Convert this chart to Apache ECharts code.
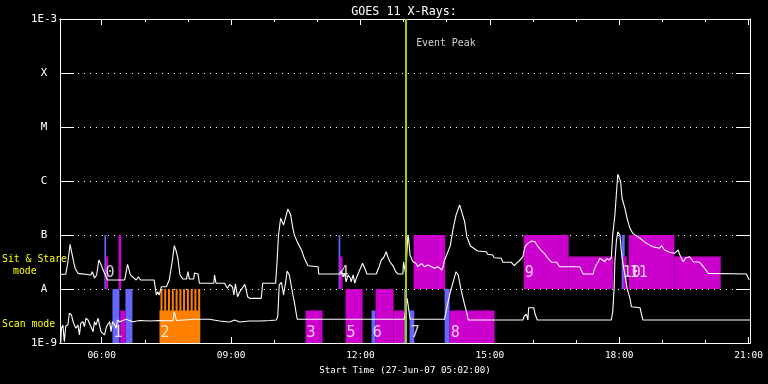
<!DOCTYPE html>
<html><head><meta charset="utf-8">
<script src="https://cdn.jsdelivr.net/npm/echarts@6/dist/echarts.min.js"></script>
<style>html,body{margin:0;padding:0;background:#000}#c{width:768px;height:384px}</style>
</head><body><div id="c"></div>
<script>
// ---------- DATA ----------
const chartTitle = 'GOES 11 X-Rays:';
const xAxisTitle = 'Start Time (27-Jun-07 05:02:00)';
const timeRange = [302, 1262];               // minutes of day (05:02 .. 21:02)
const fluxRange = [1e-9, 1e-3];
const yTickLabels = ['1E-9', 'A', 'B', 'C', 'M', 'X', '1E-3'];
const xMajorTicks = [360, 540, 720, 900, 1080, 1260];
const xHourTicks = [360, 420, 480, 540, 600, 660, 720, 780, 840, 900, 960, 1020, 1080, 1140, 1200, 1260];
const modeLabels = ['Sit & Stare', 'mode', 'Scan mode'];
const eventPeakTime = 783.5;
const eventPeakText = 'Event Peak';
const eventPeakLabelFlux = 3.6e-4;

// GOES long channel (1-8 A): [minute, flux]
const longChannel = [
[302,1.87e-8],[310,1.87e-8],[313,3.16e-8],[316,6.7e-8],[320,3.7e-8],[323,2.42e-8],[327,1.95e-8],[329,1.82e-8],
[345,1.82e-8],[347,2.09e-8],[350,1.6e-8],[353,1.82e-8],[356,3.44e-8],[359,2.87e-8],[361,2.42e-8],[365,1.82e-8],
[368,1.47e-8],[392,1.47e-8],[396,2.87e-8],[400,1.82e-8],[408,1.47e-8],[411,1.69e-8],[414,1.47e-8],[433,1.47e-8],
[436,7.74e-9],[438,8.91e-9],[440,7.74e-9],[443,1.1e-8],[450,1.1e-8],[454,1.47e-8],[458,3.16e-8],[461,6.34e-8],
[464,4.84e-8],[466,3.7e-8],[469,1.82e-8],[473,1.53e-8],[478,1.53e-8],[480,2.09e-8],[482,1.53e-8],[488,1.53e-8],
[489,1.98e-8],[494,1.9e-8],[496,1.28e-8],[516,1.28e-8],[517,1.82e-8],[519,1.28e-8],[531,1.28e-8],[533,1.19e-8],
[535,1.03e-8],[538,1.21e-8],[542,1.09e-8],[544,7.74e-9],[546,1.24e-8],[548,1.19e-8],[549,7.2e-9],[552,8.8e-9],
[559,1.22e-8],[561,9.6e-9],[563,7.2e-9],[566,6.7e-9],[582,6.7e-9],[584,1.28e-8],[602,1.28e-8],[604,3.2e-8],
[606,1.0e-7],[609,2.04e-7],[611,2.04e-7],[613,1.53e-7],[616,2.15e-7],[619,3.03e-7],[623,2.34e-7],[626,1.33e-7],
[628,1.0e-7],[633,7.0e-8],[638,5.27e-8],[642,3.7e-8],[647,2.7e-8],[661,2.59e-8],[662,1.9e-8],[691,1.9e-8],
[693,2.15e-8],[696,1.69e-8],[698,1.95e-8],[700,1.36e-8],[703,1.82e-8],[706,1.58e-8],[707,1.36e-8],[710,1.82e-8],
[712,1.28e-8],[715,1.69e-8],[719,2.25e-8],[723,2.99e-8],[727,2.25e-8],[729,1.9e-8],[742,1.9e-8],[746,2.59e-8],
[749,3.44e-8],[752,3.75e-8],[756,4.9e-8],[758,3.96e-8],[761,3.2e-8],[763,3.44e-8],[766,2.59e-8],[769,2.09e-8],
[772,1.9e-8],[779,1.9e-8],[780,3.2e-8],[781,3.2e-8],[783,1.82e-8],[786,1.0e-7],[787,8.7e-8],[789,4.27e-8],
[793,3.2e-8],[797,2.99e-8],[800,2.59e-8],[805,2.99e-8],[809,2.59e-8],[814,2.78e-8],[819,2.59e-8],[823,2.42e-8],
[828,2.59e-8],[833,2.25e-8],[835,2.59e-8],[837,3.44e-8],[840,4.27e-8],[842,3.96e-8],[845,6.34e-8],[849,1.33e-7],
[853,2.34e-7],[858,3.6e-7],[860,3.34e-7],[865,1.76e-7],[868,9.3e-8],[870,8.7e-8],[873,6.25e-8],[879,5.5e-8],
[883,5.06e-8],[895,4.9e-8],[897,4.4e-8],[904,4.27e-8],[906,3.8e-8],[916,3.7e-8],[918,3.12e-8],[930,3.12e-8],
[934,2.7e-8],[937,2.99e-8],[942,3.44e-8],[946,3.96e-8],[949,6.07e-8],[953,7.0e-8],[958,7.74e-8],[960,8.07e-8],
[963,7.5e-8],[967,6.07e-8],[972,5.06e-8],[976,4.58e-8],[979,3.96e-8],[983,3.44e-8],[986,3.12e-8],[993,3.12e-8],
[997,2.59e-8],[1018,2.59e-8],[1020,2.78e-8],[1025,2.59e-8],[1027,2.25e-8],[1030,1.9e-8],[1044,1.9e-8],[1045,2.25e-8],
[1048,2.78e-8],[1051,3.2e-8],[1053,3.7e-8],[1055,3.96e-8],[1057,3.44e-8],[1060,3.2e-8],[1063,3.7e-8],[1066,3.44e-8],
[1069,3.75e-8],[1071,1.0e-7],[1074,2.34e-7],[1076,5.5e-7],[1078,1.33e-6],[1080,1.33e-6],[1082,9.7e-7],[1084,4.79e-7],
[1088,3.12e-7],[1091,2.04e-7],[1095,1.33e-7],[1099,1.07e-7],[1109,8.7e-8],[1118,7.0e-8],[1127,6.07e-8],[1136,5.67e-8],
[1139,6.34e-8],[1143,5.27e-8],[1150,4.79e-8],[1157,4.58e-8],[1162,5.27e-8],[1164,4.4e-8],[1169,3.2e-8],[1173,3.8e-8],
[1178,3.96e-8],[1183,3.2e-8],[1192,3.12e-8],[1197,2.59e-8],[1204,1.95e-8],[1206,1.9e-8],[1257,1.9e-8],[1261,1.47e-8]
];

// GOES short channel (0.5-4 A): [minute, flux]
const shortChannel = [
[303,1.0e-9],[304,1.87e-9],[306,2.15e-9],[308,1.06e-9],[310,2.06e-9],[313,2.15e-9],[315,3.55e-9],[318,3.3e-9],
[319,2.87e-9],[321,2.32e-9],[322,2.48e-9],[324,1.87e-9],[327,2.15e-9],[329,1.41e-9],[331,2.32e-9],[334,2.48e-9],
[336,2.0e-9],[338,2.87e-9],[341,2.67e-9],[343,2.32e-9],[345,2.15e-9],[348,1.62e-9],[350,2.48e-9],[352,2.15e-9],
[355,2.87e-9],[357,2.15e-9],[359,1.62e-9],[361,1.51e-9],[364,1.41e-9],[366,1.87e-9],[368,2.15e-9],[371,2.48e-9],
[373,1.62e-9],[375,2.48e-9],[378,2.15e-9],[380,1.87e-9],[382,2.67e-9],[385,2.48e-9],[394,2.75e-9],[403,2.48e-9],
[413,2.61e-9],[427,2.55e-9],[440,2.61e-9],[459,2.59e-9],[461,3.8e-9],[464,2.61e-9],[489,2.75e-9],[510,2.75e-9],
[524,2.55e-9],[538,2.45e-9],[545,2.67e-9],[552,2.45e-9],[566,2.55e-9],[580,2.55e-9],[594,2.61e-9],[603,2.67e-9],
[605,3.16e-9],[607,1.19e-8],[610,1.33e-8],[612,9.6e-9],[613,7.74e-9],[616,1.35e-8],[618,2.15e-8],[621,1.82e-8],
[624,1.1e-8],[626,7.74e-9],[628,5.82e-9],[631,3.3e-9],[632,2.75e-9],[781,2.75e-9],[783,4.08e-9],[785,6.73e-9],
[787,4.39e-9],[789,2.75e-9],[837,2.75e-9],[840,4.39e-9],[844,7.74e-9],[849,1.36e-8],[853,2.09e-8],[856,1.82e-8],
[860,9.6e-9],[865,5.06e-9],[867,4.08e-9],[870,2.67e-9],[946,2.67e-9],[948,3.16e-9],[951,3.4e-9],[953,2.67e-9],
[954,4.5e-9],[961,4.5e-9],[963,3.44e-9],[966,2.67e-9],[1069,2.67e-9],[1071,3.8e-9],[1073,1.03e-8],[1074,3.2e-8],
[1076,7.5e-8],[1078,1.15e-7],[1079,1.22e-7],[1081,1.0e-7],[1083,4.9e-8],[1085,2.99e-8],[1088,1.82e-8],[1091,1.03e-8],
[1095,6.73e-9],[1097,4.7e-9],[1109,4.5e-9],[1111,3.4e-9],[1113,2.67e-9],[1262,2.67e-9]
];

// observation boxes: [startMinute, endMinute, lowFlux, highFlux, kind] kind: 0 blue, 1 magenta, 2 orange
const obsBoxes = [
[363.8,366.2,1e-8,1e-7,0],[375,384.7,1e-9,1e-8,0],[393,402.8,1e-9,1e-8,0],[689.6,692,1e-8,1e-7,0],
[735.5,741.1,1e-9,4e-9,0],[780.5,783.3,1e-9,1e-8,0],[788.4,794.9,1e-9,4e-9,0],[837.1,844.1,1e-9,1e-8,0],
[1083.5,1087.7,1e-8,1e-7,0],
[365.2,368.9,1e-8,4e-8,1],[383.3,387,1e-8,1e-7,1],[385.7,393,1e-9,4e-9,1],[643.6,667.3,1e-9,4e-9,1],
[691,695.1,1e-8,4e-8,1],[699.3,723,1e-9,1e-8,1],[741.1,766.2,1e-9,1e-8,1],[766.2,780.5,1e-9,4e-9,1],
[794,838.1,1e-8,1e-7,1],[844.1,906.7,1e-9,4e-9,1],[947.1,1009.7,1e-8,1e-7,1],[1009.7,1071.9,1e-8,4e-8,1],
[1085.9,1090.5,1e-8,4e-8,1],[1093.2,1156.8,1e-8,1e-7,1],[1156.8,1221.3,1e-8,4e-8,1],
[440.4,497,1e-9,4e-9,2],
[441.8,444.6,1e-9,1e-8,2],[447,449.8,1e-9,1e-8,2],[452.2,455,1e-9,1e-8,2],[457.5,460.3,1e-9,1e-8,2],
[462.8,465.6,1e-9,1e-8,2],[468.1,470.9,1e-9,1e-8,2],[473.2,476,1e-9,1e-8,2],[478.5,481.3,1e-9,1e-8,2],
[483.8,486.6,1e-9,1e-8,2],[489,491.8,1e-9,1e-8,2],[494.2,497,1e-9,1e-8,2]
];

const obsText  = ['0','1','2','3','4','5','6','7','8','9','10','11'];
const obsStart = [363.8,375,440.4,643.6,689.6,699.3,735.5,788.4,844.1,947.1,1083.5,1093.2];
const obsFlux  = [2e-8,1.5e-9,1.5e-9,1.5e-9,2e-8,1.5e-9,1.5e-9,1.5e-9,1.5e-9,2e-8,2e-8,2e-8];

// ---------- STYLE ----------
const kindColors = ['#6666ff', '#cc00cc', '#ff8000'];
const MONO = '"DejaVu Sans Mono", monospace';
const fmtTime = v => String(Math.floor(v / 60)).padStart(2, '0') + ':' + String(Math.round(v % 60)).padStart(2, '0');

const chart = echarts.init(document.getElementById('c'), null, { renderer: 'canvas' });

function xAx(pos, ticks, len, withLabel) {
  const ax = {
    type: 'value', min: timeRange[0], max: timeRange[1], position: pos,
    axisLine: { show: true, onZero: false, lineStyle: { color: '#fff', width: 1 } },
    axisTick: { show: true, inside: true, length: len, customValues: ticks, lineStyle: { color: '#fff', width: 1 } },
    axisLabel: { show: withLabel, customValues: ticks, formatter: fmtTime, color: '#fff', fontFamily: MONO, fontSize: 9.5, margin: 8 },
    splitLine: { show: false }
  };
  if (withLabel) {
    ax.name = xAxisTitle; ax.nameLocation = 'middle'; ax.nameGap = 20;
    ax.nameTextStyle = { color: '#fff', fontFamily: MONO, fontSize: 9.2 };
  }
  return ax;
}
function yAx(pos, withLabel) {
  return {
    type: 'log', logBase: 10, min: fluxRange[0], max: fluxRange[1], position: pos, splitNumber: 6,
    axisLine: { show: true, onZero: false, lineStyle: { color: '#fff', width: 1 } },
    axisTick: { show: true, inside: true, length: 14, lineStyle: { color: '#fff', width: 1 } },
    axisLabel: {
      show: withLabel, color: '#fff', fontFamily: MONO, fontSize: 10.8, align: 'center', margin: 16,
      formatter: v => yTickLabels[Math.round(Math.log10(v)) + 9] || ''
    },
    splitLine: { show: withLabel, lineStyle: { color: '#fff', width: 1, type: [1, 5] } },
    minorTick: { show: false }
  };
}

const option = {
  backgroundColor: '#000',
  animation: false,
  title: {
    text: chartTitle, left: 399, top: 1, textAlign: 'center',
    textStyle: { color: '#fff', fontFamily: MONO, fontSize: 11.7, fontWeight: 'normal' }
  },
  grid: { left: 60, right: 18, top: 19, bottom: 41, containLabel: false },
  xAxis: [xAx('bottom', xMajorTicks, 6, true), xAx('bottom', xHourTicks, 3, false),
          xAx('top', xMajorTicks, 6, false), xAx('top', xHourTicks, 3, false)],
  yAxis: [yAx('left', true), yAx('right', false)],
  graphic: [
    { type: 'text', x: 2, y: 259, style: { text: modeLabels[0], fill: '#ffff00', font: '9.8px ' + MONO, verticalAlign: 'middle' } },
    { type: 'text', x: 13, y: 271, style: { text: modeLabels[1], fill: '#ffff00', font: '9.8px ' + MONO, verticalAlign: 'middle' } },
    { type: 'text', x: 2, y: 324, style: { text: modeLabels[2], fill: '#ffff00', font: '9.8px ' + MONO, verticalAlign: 'middle' } }
  ],
  series: [
    {
      type: 'custom', xAxisIndex: 0, yAxisIndex: 0, z: 2, silent: true,
      data: obsBoxes,
      encode: { x: [0, 1], y: [2, 3] },
      renderItem: (params, api) => {
        const p0 = api.coord([api.value(0), api.value(3)]);
        const p1 = api.coord([api.value(1), api.value(2)]);
        return {
          type: 'rect',
          shape: { x: p0[0], y: p0[1], width: p1[0] - p0[0], height: p1[1] - p0[1] },
          style: { fill: kindColors[api.value(4)] }
        };
      }
    },
    {
      type: 'line', xAxisIndex: 0, yAxisIndex: 0, z: 3, silent: true,
      data: longChannel, showSymbol: false, symbol: 'none',
      lineStyle: { color: '#fff', width: 1.1 }
    },
    {
      type: 'line', xAxisIndex: 0, yAxisIndex: 0, z: 3, silent: true,
      data: shortChannel, showSymbol: false, symbol: 'none',
      lineStyle: { color: '#fff', width: 1.1 }
    },
    {
      type: 'scatter', xAxisIndex: 0, yAxisIndex: 0, z: 4, silent: true,
      symbolSize: 0.1, itemStyle: { color: 'rgba(0,0,0,0)' },
      data: obsText.map((t, i) => [obsStart[i], obsFlux[i], t]),
      label: {
        show: true, position: 'right', distance: 1, color: '#fff',
        fontFamily: MONO, fontSize: 15, formatter: p => p.value[2]
      }
    },
    {
      type: 'scatter', xAxisIndex: 0, yAxisIndex: 0, z: 5, silent: true,
      symbolSize: 0.1, itemStyle: { color: 'rgba(0,0,0,0)' },
      data: [[eventPeakTime, eventPeakLabelFlux]],
      label: { show: true, position: 'right', distance: 10, color: '#fff', fontFamily: MONO, fontSize: 9.9, formatter: eventPeakText },
      markLine: {
        silent: true, symbol: ['none', 'none'], animation: false,
        label: { show: false },
        lineStyle: { color: '#a4cc00', width: 2, type: 'solid' },
        emphasis: { disabled: true },
        data: [{ xAxis: eventPeakTime }]
      }
    }
  ]
};
chart.setOption(option);
</script>
</body></html>
